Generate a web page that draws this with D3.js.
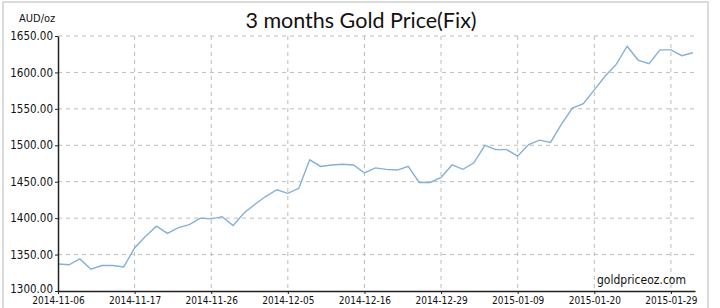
<!DOCTYPE html>
<html>
<head>
<meta charset="utf-8">
<script src="https://cdnjs.cloudflare.com/ajax/libs/d3/7.8.5/d3.min.js"></script>
<style>
    body { margin: 0; background: #fff; }
    .axis text { font-family: "Liberation Sans Narrow", "DejaVu Sans Condensed", sans-serif; fill: #111; }
    .axis path, .axis line { stroke: #222; }
</style>
</head>
<body>
<div id="chart"></div>
<script>
// fixing days shown on the chart (one per point)
const dates = [
    "2014-11-06", "2014-11-07", "2014-11-10", "2014-11-11", "2014-11-12", "2014-11-13", "2014-11-14",
    "2014-11-17", "2014-11-18", "2014-11-19", "2014-11-20", "2014-11-21", "2014-11-24", "2014-11-25",
    "2014-11-26", "2014-11-27", "2014-11-28", "2014-12-01", "2014-12-02", "2014-12-03", "2014-12-04",
    "2014-12-05", "2014-12-08", "2014-12-09", "2014-12-10", "2014-12-11", "2014-12-12", "2014-12-15",
    "2014-12-16", "2014-12-17", "2014-12-18", "2014-12-19", "2014-12-22", "2014-12-23", "2014-12-24",
    "2014-12-29", "2014-12-30", "2015-01-02", "2015-01-05", "2015-01-06", "2015-01-07", "2015-01-08",
    "2015-01-09", "2015-01-12", "2015-01-13", "2015-01-14", "2015-01-15", "2015-01-16", "2015-01-19",
    "2015-01-20", "2015-01-21", "2015-01-22", "2015-01-23", "2015-01-26", "2015-01-27", "2015-01-28",
    "2015-01-29", "2015-01-30", "2015-02-02"
];
// AUD per ounce
const prices = [
    1337, 1336, 1344, 1330, 1335, 1335, 1333,
    1359, 1375, 1389, 1379, 1387, 1391, 1400,
    1399, 1402, 1390, 1407, 1419, 1430, 1439,
    1434, 1441, 1480, 1471, 1473, 1474, 1473,
    1462, 1469, 1467, 1466, 1471, 1449, 1449,
    1456, 1473, 1467, 1476, 1500, 1494, 1494,
    1485, 1501, 1507, 1504, 1529, 1551, 1557,
    1576, 1595, 1611, 1636, 1617, 1612, 1631,
    1631, 1623, 1627
];
const yTicks = [1300, 1350, 1400, 1450, 1500, 1550, 1600, 1650];
const xTickIdx = [0, 7, 14, 21, 28, 35, 42, 49, 56];

var width = 720, height = 308;
var plot = { left: 58, right: 695, top: 36, bottom: 291 };

var svg = d3.select("#chart").append("svg")
    .attr("width", width)
    .attr("height", height);

// frame of the screenshot
svg.append("rect")
    .attr("x", 3).attr("y", 2)
    .attr("width", 705).attr("height", 320)
    .attr("fill", "none")
    .attr("stroke", "#d0d0d0")
    .attr("stroke-width", 1.5);

var x = d3.scaleLinear().domain([0, 58.2]).range([plot.left, plot.right]);
var y = d3.scaleLinear().domain([1300, 1650]).range([plot.bottom, plot.top]);

// grid
svg.append("g").selectAll("line")
    .data(yTicks.slice(1))
    .enter().append("line")
    .attr("x1", plot.left).attr("x2", plot.right)
    .attr("y1", d => y(d)).attr("y2", d => y(d))
    .attr("stroke", "#bdbdbd")
    .attr("stroke-dasharray", "4,4");

svg.append("g").selectAll("line")
    .data(xTickIdx.slice(1))
    .enter().append("line")
    .attr("x1", d => x(d)).attr("x2", d => x(d))
    .attr("y1", plot.top).attr("y2", plot.bottom)
    .attr("stroke", "#bdbdbd")
    .attr("stroke-dasharray", "4,4");

// price line
var line = d3.line()
    .x((d, i) => x(i))
    .y(d => y(d));

svg.append("path")
    .datum(prices)
    .attr("d", line)
    .attr("fill", "none")
    .attr("stroke", "#85b0d6")
    .attr("stroke-width", 1.4);

// axes
var yAxis = d3.axisLeft(y)
    .tickValues(yTicks)
    .tickFormat(d3.format(".2f"))
    .tickSize(3)
    .tickSizeOuter(0)
    .tickPadding(2);

var gy = svg.append("g")
    .attr("class", "axis")
    .attr("transform", "translate(" + plot.left + ",0)")
    .call(yAxis);
gy.select(".domain").attr("stroke-width", 1.5);
gy.selectAll("text").attr("font-size", 11.5);
// lowest label sits a bit higher so it clears the date labels
gy.selectAll(".tick text").filter(d => d === 1300).attr("dy", "0.1em");

var xAxis = d3.axisBottom(x)
    .tickValues(xTickIdx)
    .tickFormat(i => dates[i])
    .tickSize(3)
    .tickSizeOuter(0)
    .tickPadding(3);

var gx = svg.append("g")
    .attr("class", "axis")
    .attr("transform", "translate(0," + plot.bottom + ")")
    .call(xAxis);
gx.select(".domain").attr("stroke-width", 1.5);
gx.selectAll("text").attr("font-size", 10);

// texts
svg.append("text")
    .attr("x", 361).attr("y", 28)
    .attr("text-anchor", "middle")
    .attr("font-family", "Lato, 'Open Sans', sans-serif")
    .attr("font-size", 21.5)
    .attr("fill", "#111")
    .text("3 months Gold Price(Fix)");

svg.append("text")
    .attr("x", 19).attr("y", 22)
    .attr("font-family", "'Liberation Sans Narrow', 'DejaVu Sans Condensed', sans-serif")
    .attr("font-size", 11)
    .attr("fill", "#111")
    .text("AUD/oz");

svg.append("text")
    .attr("x", 597).attr("y", 284)
    .attr("font-family", "'Liberation Sans Narrow', 'DejaVu Sans Condensed', sans-serif")
    .attr("font-size", 12)
    .attr("fill", "#111")
    .text("goldpriceoz.com");
</script>
</body>
</html>
